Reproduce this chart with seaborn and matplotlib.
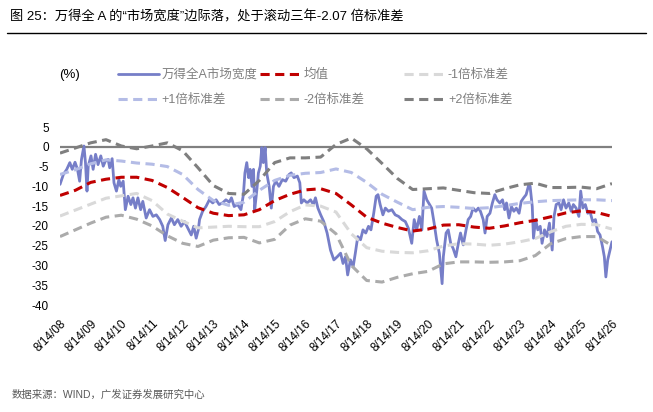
import matplotlib
matplotlib.use("Agg")
import matplotlib.pyplot as plt
from matplotlib.lines import Line2D
import seaborn as sns


# x positions are years after 2008-08-14 (one tick per year)
tick_labels = [
    "8/14/08", "8/14/09", "8/14/10", "8/14/11", "8/14/12", "8/14/13", "8/14/14",
    "8/14/15", "8/14/16", "8/14/17", "8/14/18", "8/14/19", "8/14/20", "8/14/21",
    "8/14/22", "8/14/23", "8/14/24", "8/14/25", "8/14/26",
]

# rolling 3y mean / std bands, read every half year
band_t = [
    0.0, 0.5, 1.0, 1.5, 2.0, 2.5, 3.0, 3.5, 4.0, 4.5, 5.0, 5.5, 6.0, 6.5, 7.0, 7.5,
    8.0, 8.5, 9.0, 9.5, 10.0, 10.5, 11.0, 11.5, 12.0, 12.5, 13.0, 13.5, 14.0, 14.5,
    15.0, 15.5, 16.0, 16.5, 17.0, 17.5, 18.0,
]
mean_vals = [
    -12.3, -11.0, -9.0, -8.2, -7.7, -7.7, -8.5, -10.3, -12.8, -15.4, -16.8, -17.4,
    -17.2, -15.9, -13.6, -12.0, -10.9, -10.6, -11.8, -14.7, -17.8, -19.3, -20.4,
    -21.3, -20.8, -19.8, -19.7, -20.3, -20.6, -20.0, -19.2, -18.6, -17.7, -16.7,
    -16.2, -16.6, -17.6,
]
plus1_vals = [
    -7.0, -5.8, -4.3, -3.3, -3.6, -4.1, -4.4, -5.0, -7.0, -10.8, -13.6, -14.8,
    -14.0, -11.0, -8.5, -7.2, -6.7, -6.5, -5.6, -6.5, -9.0, -12.0, -14.0, -15.9,
    -15.3, -15.1, -15.3, -15.6, -15.4, -14.9, -14.3, -13.9, -13.6, -13.5, -13.4,
    -13.4, -13.6,
]
minus1_vals = [
    -17.5, -16.0, -14.5, -13.0, -12.4, -11.8, -13.6, -17.0, -18.8, -20.5, -20.3,
    -20.1, -20.2, -20.2, -18.9, -16.4, -14.7, -15.0, -16.5, -22.0, -25.5, -26.4,
    -26.7, -26.8, -26.3, -25.1, -24.5, -24.6, -24.9, -24.6, -24.0, -23.2, -21.5,
    -20.1, -19.6, -19.7, -20.8,
]
plus2_vals = [
    -1.6, -0.3, 1.0, 1.8, 0.2, -0.5, 0.2, 1.0, -1.0, -5.3, -9.8, -11.8, -12.0,
    -8.5, -4.0, -2.8, -2.8, -2.6, 0.6, 2.2, -0.5, -4.2, -8.0, -10.8, -10.6, -10.4,
    -11.0, -11.6, -11.8, -10.6, -9.6, -9.2, -10.3, -10.3, -10.2, -10.6, -9.3,
]
minus2_vals = [
    -22.7, -21.0, -19.3, -17.8, -17.3, -18.3, -20.0, -22.5, -24.4, -25.2, -23.6,
    -23.0, -22.9, -24.3, -23.4, -19.8, -18.2, -18.8, -22.0, -30.0, -33.8, -34.2,
    -33.0, -32.1, -31.5, -29.6, -29.1, -29.1, -29.2, -29.1, -28.8, -27.5, -24.5,
    -23.2, -22.7, -22.7, -25.0,
]

# market breadth of Wind All A (%)
breadth_t = [
    0.00, 0.11, 0.22, 0.32, 0.40, 0.49, 0.57, 0.64, 0.70, 0.78, 0.83, 0.88, 0.92,
    1.01, 1.08, 1.16, 1.24, 1.33, 1.41, 1.48, 1.57, 1.62, 1.70, 1.76, 1.84, 1.92,
    1.98, 2.06, 2.13, 2.22, 2.31, 2.38, 2.46, 2.54, 2.63, 2.70, 2.81, 2.92, 3.03,
    3.14, 3.25, 3.35, 3.43, 3.52, 3.63, 3.73, 3.84, 3.95, 4.06, 4.17, 4.28, 4.36,
    4.44, 4.51, 4.55, 4.65, 4.76, 4.87, 4.98, 5.09, 5.19, 5.30, 5.41, 5.52, 5.59,
    5.68, 5.79, 5.90, 5.98, 6.03, 6.09, 6.15, 6.20, 6.26, 6.31, 6.35, 6.42, 6.47,
    6.53, 6.58, 6.63, 6.69, 6.74, 6.82, 6.89, 6.96, 7.04, 7.14, 7.25, 7.36, 7.47,
    7.54, 7.63, 7.74, 7.82, 7.87, 7.95, 8.06, 8.17, 8.26, 8.33, 8.41, 8.50, 8.60,
    8.71, 8.82, 8.93, 9.04, 9.15, 9.23, 9.31, 9.38, 9.47, 9.56, 9.63, 9.71, 9.80,
    9.88, 9.97, 10.06, 10.14, 10.23, 10.31, 10.37, 10.44, 10.53, 10.61, 10.71,
    10.82, 10.93, 11.04, 11.15, 11.26, 11.36, 11.47, 11.55, 11.63, 11.72, 11.80,
    11.87, 11.96, 12.05, 12.12, 12.20, 12.28, 12.37, 12.41, 12.46, 12.50, 12.59,
    12.66, 12.74, 12.82, 12.91, 12.99, 13.06, 13.15, 13.24, 13.31, 13.39, 13.47,
    13.56, 13.64, 13.71, 13.80, 13.86, 13.93, 14.02, 14.10, 14.18, 14.25, 14.34,
    14.43, 14.50, 14.56, 14.64, 14.72, 14.80, 14.88, 14.97, 15.04, 15.12, 15.20,
    15.29, 15.33, 15.40, 15.44, 15.51, 15.58, 15.66, 15.72, 15.80, 15.88, 15.96,
    16.05, 16.11, 16.18, 16.27, 16.34, 16.42, 16.50, 16.59, 16.67, 16.74, 16.83,
    16.92, 16.98, 17.05, 17.13, 17.21, 17.28, 17.37, 17.46, 17.53, 17.61, 17.69,
    17.75, 17.80, 17.86, 18.00,
]
breadth_vals = [
    -9.5, -7.0, -5.7, -4.0, -5.7, -3.9, -5.7, -8.7, -3.2, 0.2, -4.0, -11.2, -4.9,
    -2.3, -5.7, -1.9, -4.5, -2.3, -4.9, -3.6, -3.2, -5.3, -3.0, -9.1, -11.2, -8.3,
    -10.0, -8.7, -15.9, -12.5, -14.6, -12.9, -15.5, -12.9, -15.9, -13.8, -18.0,
    -15.9, -17.6, -17.2, -18.4, -20.1, -23.7, -19.7, -18.0, -19.7, -18.4, -20.1,
    -18.9, -20.6, -22.3, -20.1, -23.1, -21.0, -18.4, -16.3, -15.1, -13.4, -14.2,
    -13.4, -14.6, -14.2, -13.4, -14.0, -12.9, -15.1, -14.6, -15.9, -12.1, -6.6,
    -4.0, -7.8, -5.7, -10.0, -5.7, -15.9, -10.8, -6.6, -4.9, -0.2, -4.0, -0.2,
    -6.6, -10.0, -15.5, -10.0, -8.7, -10.0, -8.3, -8.7, -7.0, -6.6, -7.8, -7.4,
    -9.1, -14.2, -13.4, -14.2, -13.4, -14.6, -12.9, -15.5, -17.2, -18.9, -21.8,
    -26.1, -28.6, -27.8, -26.9, -29.5, -27.8, -32.4, -28.6, -30.3, -26.9, -22.7,
    -23.5, -21.0, -21.8, -20.1, -21.0, -16.8, -12.5, -12.1, -14.6, -17.2, -15.5,
    -16.3, -15.9, -17.2, -17.6, -18.4, -18.9, -20.6, -24.4, -18.4, -21.0, -17.6,
    -21.0, -11.2, -13.4, -14.6, -15.5, -19.3, -23.5, -26.9, -30.3, -34.6, -27.8,
    -21.8, -21.0, -24.4, -25.7, -27.8, -24.4, -21.8, -24.8, -21.0, -18.4, -17.6,
    -15.5, -16.3, -15.5, -16.3, -18.4, -21.8, -17.6, -16.8, -14.2, -12.1, -13.4,
    -14.2, -13.4, -15.9, -14.2, -18.0, -15.1, -16.3, -15.5, -16.8, -13.8, -12.9,
    -12.1, -9.5, -10.0, -15.1, -23.1, -18.4, -21.0, -20.1, -24.4, -21.0, -22.7,
    -19.3, -26.1, -17.6, -14.6, -14.2, -15.9, -13.4, -15.5, -14.2, -16.3, -14.6,
    -15.5, -17.6, -11.2, -15.5, -14.6, -16.8, -16.3, -18.9, -18.4, -21.4, -22.3,
    -25.2, -27.8, -32.9, -28.6, -24.0,
]

title = "图 25：万得全 A 的“市场宽度”边际落，处于滚动三年-2.07 倍标准差"
source = "数据来源：WIND，广发证券发展研究中心"


sns.set_theme(style="white")
plt.rcParams["font.family"] = ["Liberation Sans", "Noto Sans CJK SC"]
plt.rcParams["axes.unicode_minus"] = False

fig = plt.figure(figsize=(6.53, 4.12), dpi=100)
ax = fig.add_axes([0.0919, 0.2597, 0.8453, 0.432])

# excel style horizontal axis crossing at zero
ax.axhline(0, color="#808080", lw=1.6, zorder=1)

sns.lineplot(x=breadth_t, y=breadth_vals, ax=ax, color="#767ec8", lw=2.0,
             label="万得全A市场宽度", zorder=2)

dash = (0, (3.0, 1.8))
bands = [
    (mean_vals, "均值", "#c00000"),
    (minus1_vals, "-1倍标准差", "#d9d9d9"),
    (plus1_vals, "+1倍标准差", "#b4bce6"),
    (minus2_vals, "-2倍标准差", "#ababab"),
    (plus2_vals, "+2倍标准差", "#7f7f7f"),
]
for vals, name, col in bands:
    sns.lineplot(x=band_t, y=vals, ax=ax, color=col, lw=2.2, linestyle=dash,
                 label=name, zorder=3)

if ax.get_legend() is not None:
    ax.get_legend().remove()

ax.set_xlim(0, 18)
ax.set_ylim(-40, 5)
ax.set_yticks(range(-40, 6, 5))
ax.set_xticks(range(len(tick_labels)))
ax.set_xticklabels(tick_labels, rotation=45, ha="right", va="top",
                   rotation_mode="anchor")
ax.tick_params(axis="y", length=0, pad=8, labelsize=8.5, labelcolor="black")
ax.tick_params(axis="x", length=0, pad=9, labelsize=8.5, labelcolor="black")
ax.set_xlabel("")
ax.set_ylabel("")
ax.grid(False)
for s in ax.spines.values():
    s.set_visible(False)

# legend, one entry at a time to match the excel layout
handles, labels = ax.get_legend_handles_labels()
lookup = dict(zip(labels, handles))
spots = [
    ("万得全A市场宽度", 0.1807, 0.818),
    ("均值", 0.398, 0.818),
    ("-1倍标准差", 0.619, 0.818),
    ("+1倍标准差", 0.1807, 0.757),
    ("-2倍标准差", 0.398, 0.757),
    ("+2倍标准差", 0.619, 0.757),
]
for name, lx, ly in spots:
    fig.legend(handles=[lookup[name]], labels=[name], loc="center left",
               bbox_to_anchor=(lx, ly), frameon=False, fontsize=9,
               handlelength=3.3, handletextpad=0.2, borderpad=0,
               borderaxespad=0, labelcolor="#808080")

fig.text(0.09, 0.818, "(%)", fontsize=9.5, va="center", ha="left", color="black")

fig.text(0.0153, 0.9587, title, fontsize=9.5, va="center", ha="left", color="black")
fig.add_artist(Line2D([0.01, 0.99], [0.92, 0.92], transform=fig.transFigure,
                      color="black", lw=1))
fig.text(0.018, 0.041, source, fontsize=7.5, va="center", ha="left", color="#595959")

fig.savefig("out.png", dpi=100)
